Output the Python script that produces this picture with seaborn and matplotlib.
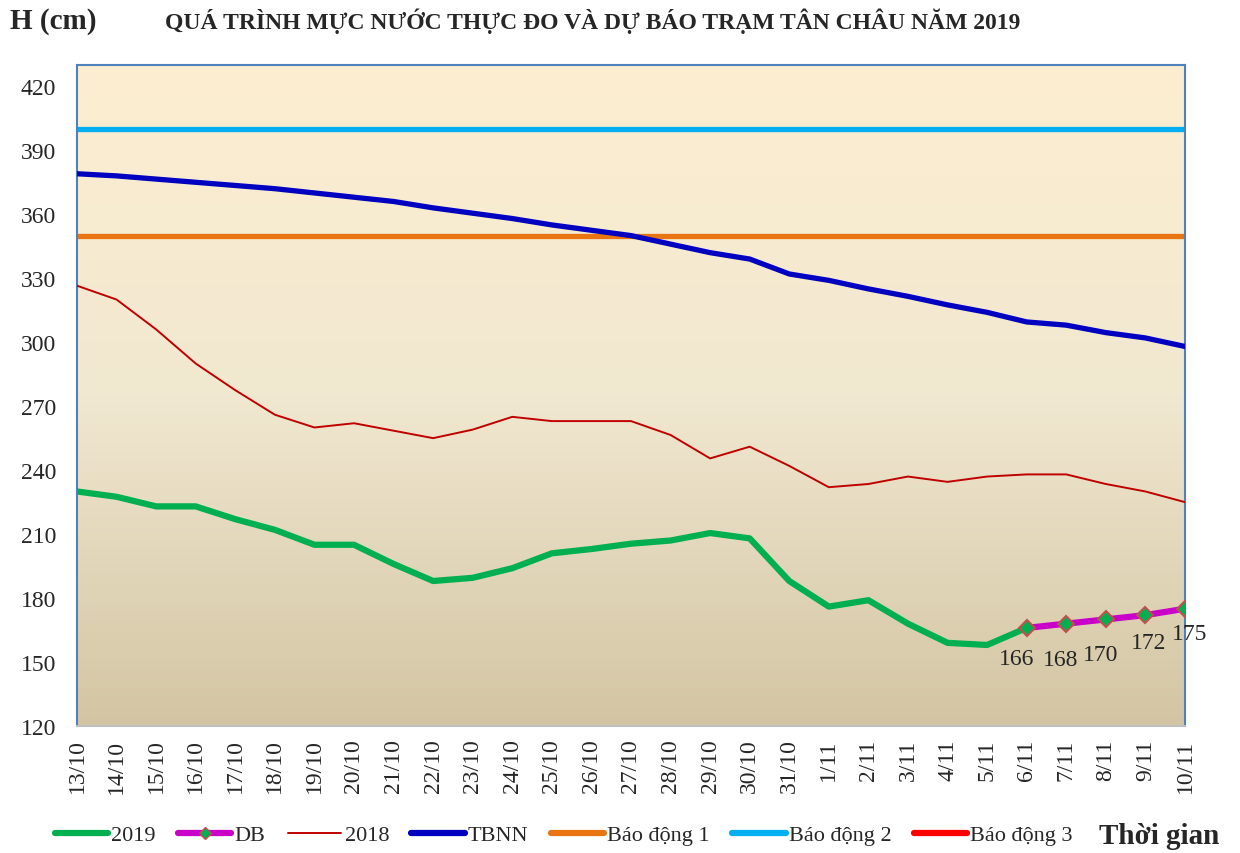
import numpy as np
import pandas as pd
import matplotlib
matplotlib.use("Agg")
import matplotlib.pyplot as plt
import seaborn as sns
from matplotlib.colors import LinearSegmentedColormap
from matplotlib.lines import Line2D

dates = ["13/10", "14/10", "15/10", "16/10", "17/10", "18/10", "19/10", "20/10",
         "21/10", "22/10", "23/10", "24/10", "25/10", "26/10", "27/10", "28/10",
         "29/10", "30/10", "31/10", "1/11", "2/11", "3/11", "4/11", "5/11",
         "6/11", "7/11", "8/11", "9/11", "10/11"]

h2019 = [230, 227.5, 223, 223, 217, 212, 205, 205, 196, 188, 189.5, 194, 201,
         203, 205.5, 207, 210.5, 208, 188, 176, 179, 168, 159, 158, 166]
db_dates = ["6/11", "7/11", "8/11", "9/11", "10/11"]
db_vals = [166, 168, 170, 172, 175]
h2018 = [326.5, 320, 306, 290, 277.5, 266, 260, 262, 258.5, 255, 259, 265, 263,
         263, 263, 256.5, 245.5, 251, 242, 232, 233.5, 237, 234.5, 237, 238,
         238, 233.5, 230, 225]
tbnn = [379, 378, 376.5, 375, 373.5, 372, 370, 368, 366, 363, 360.5, 358, 355,
        352.5, 350, 346, 342, 339, 332, 329, 325, 321.5, 317.5, 314, 309.5,
        308, 304.5, 302, 298]
bd1 = 350
bd2 = 400
bd3 = 450

yticks = list(range(120, 421, 30))

pos = {d: i for i, d in enumerate(dates)}
df2019 = pd.DataFrame({"x": [pos[d] for d in dates[:len(h2019)]], "y": h2019})
dfdb = pd.DataFrame({"x": [pos[d] for d in db_dates], "y": db_vals})
df2018 = pd.DataFrame({"x": list(range(len(dates))), "y": h2018})
dftb = pd.DataFrame({"x": list(range(len(dates))), "y": tbnn})

sns.set_theme(style="white")
plt.rcParams["font.family"] = ["Liberation Serif", "DejaVu Serif"]

fig = plt.figure(figsize=(12.4, 8.54), dpi=100)
ax = fig.add_axes([0.0621, 0.1487, 0.8935, 0.774])

# gradient background
cmap = LinearSegmentedColormap.from_list("bg", ["#D3C5A3", "#F1E8D1", "#FDEED0"])
grad = np.linspace(0, 1, 256).reshape(-1, 1)
ax.imshow(grad, extent=[0, 1, 0, 1], transform=ax.transAxes, aspect="auto",
          cmap=cmap, origin="lower", zorder=0)

c_green = "#00B050"
c_mag = "#C800C8"
c_red18 = "#C00000"
c_blue = "#0000C0"
c_orange = "#E87511"
c_lblue = "#00B0F0"
c_red3 = "#FF0000"

ax.axhline(bd2, color=c_lblue, lw=3.8, zorder=2)
ax.axhline(bd1, color=c_orange, lw=3.8, zorder=2)
ax.axhline(bd3, color=c_red3, lw=3.8, zorder=2)

sns.lineplot(data=dftb, x="x", y="y", ax=ax, color=c_blue, lw=3.8, zorder=3)
sns.lineplot(data=df2018, x="x", y="y", ax=ax, color=c_red18, lw=1.4, zorder=3)
sns.lineplot(data=df2019, x="x", y="y", ax=ax, color=c_green, lw=4.5, zorder=4)
sns.lineplot(data=dfdb, x="x", y="y", ax=ax, color=c_mag, lw=4.5, zorder=5,
             marker="D", markersize=8, markerfacecolor=c_green,
             markeredgecolor="#C0504D", markeredgewidth=1.5)

offsets = [(-7, -22), (-4, -26), (-4, -25), (2, -20), (3, -18)]
for (xv, yv), off in zip(zip(dfdb["x"], dfdb["y"]), offsets):
    ax.annotate(f"{yv:g}", (xv, yv), xytext=off, textcoords="offset points",
                ha="center", va="center", fontsize=17, color="#262626", zorder=6,
                annotation_clip=False)

ax.set_xlim(0, len(dates) - 1)
ax.set_ylim(120, 430)
ax.set_yticks(yticks)
ax.set_yticklabels([str(t) for t in yticks], fontsize=17, color="#262626")
ax.set_xticks(range(len(dates)))
ax.set_xticklabels(dates, rotation=90, fontsize=17, color="#262626")
ax.tick_params(axis="x", length=0, pad=9)
ax.tick_params(axis="y", length=0, pad=15)
ax.set_xlabel("")
ax.set_ylabel("")
ax.grid(False)
for s in ["left", "right", "top"]:
    ax.spines[s].set_color("#4F81BD")
    ax.spines[s].set_linewidth(1.5)
ax.spines["bottom"].set_color("#BFBFBF")
ax.spines["bottom"].set_linewidth(1.5)

fig.text(0.008, 0.975, "H (cm)", fontsize=21, fontweight="bold", color="#262626",
         ha="left", va="center")
fig.text(0.133, 0.975, "QUÁ TRÌNH MỰC NƯỚC THỰC ĐO VÀ DỰ BÁO TRẠM TÂN CHÂU NĂM 2019",
         fontsize=17, fontweight="bold", color="#262626", ha="left", va="center")
fig.text(0.886, 0.021, "Thời gian", fontsize=21, fontweight="bold", color="#262626",
         ha="left", va="center")

handles = [
    Line2D([], [], color=c_green, lw=4.5),
    Line2D([], [], color=c_mag, lw=4.5, marker="D", markersize=6,
           markerfacecolor=c_green, markeredgecolor="#C0504D"),
    Line2D([], [], color=c_red18, lw=1.4),
    Line2D([], [], color=c_blue, lw=4.5),
    Line2D([], [], color=c_orange, lw=4.5),
    Line2D([], [], color=c_lblue, lw=4.5),
    Line2D([], [], color=c_red3, lw=4.5),
]
labels = ["2019", "DB", "2018", "TBNN", "Báo động 1", "Báo động 2", "Báo động 3"]
leg = fig.legend(handles, labels, loc="center left", bbox_to_anchor=(0.037, 0.021),
                 ncol=7, frameon=False, fontsize=16, handlelength=2.4,
                 handletextpad=0.15, columnspacing=1.0, borderaxespad=0)
for t in leg.get_texts():
    t.set_color("#262626")

fig.savefig("out.png", dpi=100)
